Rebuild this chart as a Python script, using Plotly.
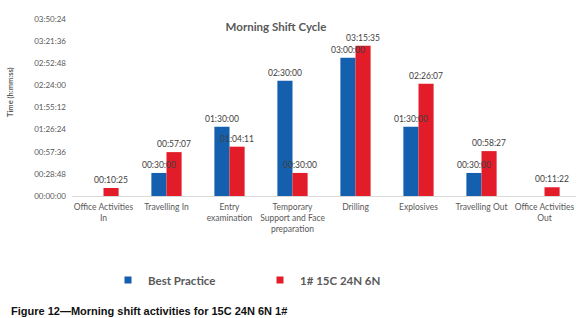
import plotly.graph_objects as go

categories = [
    "Office Activities<br>In", "Travelling In", "Entry<br>examination",
    "Temporary<br>Support and Face<br>preparation", "Drilling", "Explosives",
    "Travelling Out", "Office Activities<br>Out",
]
best_practice = [None, "00:30:00", "01:30:00", "02:30:00", "03:00:00", "01:30:00", "00:30:00", None]
shift_1 = ["00:10:25", "00:57:07", "01:04:11", "00:30:00", "03:15:35", "02:26:07", "00:58:27", "00:11:22"]
series_names = ["Best Practice", "1# 15C 24N 6N"]
tick_labels = ["00:00:00", "00:28:48", "00:57:36", "01:26:24", "01:55:12",
               "02:24:00", "02:52:48", "03:21:36", "03:50:24"]

def to_sec(s):
    if s is None:
        return None
    h, m, x = s.split(":")
    return int(h) * 3600 + int(m) * 60 + int(x)

tick_vals = [to_sec(t) for t in tick_labels]

W, H = 580, 318
L, R, T, B = 72, 4, 19, 122
pw, ph = W - L - R, H - T - B

def px_x(x):
    return (x - L) / pw

def px_y(y):
    return (H - B - y) / ph

BLUE = "#1560AE"
RED = "#E31C2A"
GRAY = "#595959"
FONT = "Lato"

series = [(series_names[0], best_practice, BLUE, "a"), (series_names[1], shift_1, RED, "b")]

fig = go.Figure()
# bars
for name, vals, col, grp in series:
    fig.add_trace(go.Bar(
        x=categories, y=[to_sec(v) for v in vals], name=name, offsetgroup=grp,
        marker=dict(color=col, line=dict(width=0)), showlegend=False,
    ))
# data labels drawn on top of all bars
for name, vals, col, grp in series:
    fig.add_trace(go.Bar(
        x=categories, y=[to_sec(v) for v in vals], name=name, offsetgroup=grp,
        marker=dict(color="rgba(0,0,0,0)", line=dict(width=0)),
        text=[v if v else "" for v in vals], textposition="outside",
        textfont=dict(family=FONT, size=8.5, color="#404040"),
        constraintext="none", cliponaxis=False, showlegend=False, hoverinfo="skip",
    ))
# legend entries
for name, vals, col, grp in series:
    fig.add_trace(go.Scatter(
        x=[None], y=[None], mode="markers", name=name,
        marker=dict(symbol="square", size=7, color=col),
    ))

fig.update_layout(
    width=W, height=H,
    margin=dict(l=L, r=R, t=T, b=B),
    paper_bgcolor="white", plot_bgcolor="white",
    barmode="group", bargap=0.52, bargroupgap=0,
    font=dict(family=FONT, color=GRAY),
    title=dict(text="<b>Morning Shift Cycle</b>", font=dict(family=FONT, size=11.5, color=GRAY),
               xref="paper", x=px_x(276), xanchor="center",
               yref="container", y=1 - 27 / H, yanchor="middle"),
    xaxis=dict(showline=True, linecolor="#D9D9D9", linewidth=1, ticks="",
               tickfont=dict(family=FONT, size=8.5, color=GRAY), showgrid=False,
               ticklabelstandoff=3, fixedrange=True),
    yaxis=dict(range=[0, tick_vals[-1]], tickvals=tick_vals, ticktext=tick_labels,
               showgrid=False, zeroline=False, showline=False, ticks="",
               ticklabelstandoff=5,
               tickfont=dict(family=FONT, size=8, color=GRAY)),
    legend=dict(orientation="h", x=px_x(108), xanchor="left", y=px_y(280), yanchor="middle",
                font=dict(family=FONT, size=11.5, color=GRAY, weight="bold"),
                entrywidth=107, entrywidthmode="pixels", bgcolor="rgba(0,0,0,0)"),
    annotations=[
        dict(text="<b>Time (h:mm:ss)</b>", textangle=-90, xref="paper", yref="paper",
             x=px_x(10), y=px_y(92), xanchor="center", yanchor="middle", showarrow=False,
             font=dict(family=FONT, size=7.5, color=GRAY)),
        dict(text="<b>Figure 12\u2014Morning shift activities for 15C 24N 6N 1#</b>",
             xref="paper", yref="paper", x=px_x(9), y=px_y(311), xanchor="left",
             yanchor="middle", showarrow=False,
             font=dict(family="Liberation Sans", size=11, color="#111111")),
    ],
)

fig.write_html("out.html", config={"displayModeBar": False},
               post_script="document.body.style.margin='0';")
